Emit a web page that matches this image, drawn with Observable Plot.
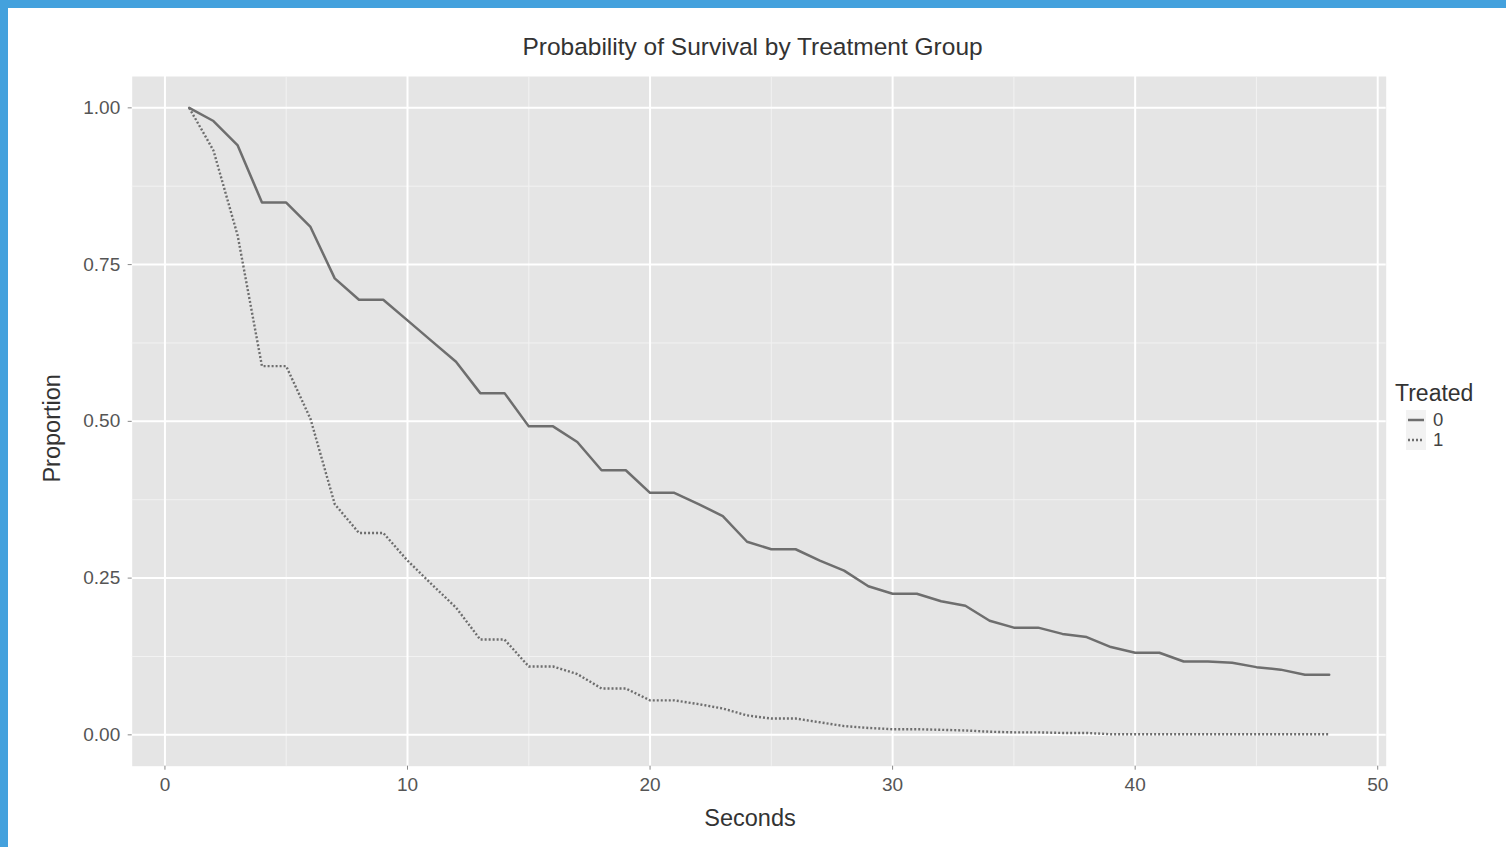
<!DOCTYPE html>
<html><head><meta charset="utf-8">
<script src="https://cdn.jsdelivr.net/npm/d3@7"></script>
<script src="https://cdn.jsdelivr.net/npm/@observablehq/plot@0.6"></script>
<style>
html,body{margin:0;padding:0;background:#fff;overflow:hidden;}
#wrap{width:1498px;height:839px;border-top:8px solid #44a1dd;border-left:8px solid #44a1dd;background:#fff;}
#wrap svg{display:block;}
</style></head><body><div id="wrap"></div>
<script>
const seconds = [1,2,3,4,5,6,7,8,9,10,11,12,13,14,15,16,17,18,19,20,21,22,23,24,25,26,27,28,29,30,31,32,33,34,35,36,37,38,39,40,41,42,43,44,45,46,47,48];
const untreated = [1.000,0.979,0.940,0.849,0.849,0.810,0.728,0.694,0.694,0.661,0.628,0.595,0.545,0.545,0.492,0.492,0.467,0.422,0.422,0.386,0.386,0.368,0.349,0.308,0.296,0.296,0.278,0.262,0.237,0.225,0.225,0.213,0.206,0.182,0.171,0.171,0.161,0.156,0.140,0.131,0.131,0.117,0.117,0.115,0.108,0.104,0.096,0.096];
const treated = [1.000,0.932,0.796,0.588,0.588,0.504,0.368,0.322,0.322,0.278,0.240,0.203,0.152,0.152,0.109,0.109,0.097,0.074,0.074,0.055,0.055,0.049,0.042,0.031,0.026,0.026,0.020,0.014,0.011,0.009,0.009,0.008,0.007,0.005,0.004,0.004,0.003,0.003,0.001,0.001,0.001,0.001,0.001,0.001,0.001,0.001,0.001,0.001];
const groups = ["0","1"];
const xTicks = [0,10,20,30,40,50];
const xMinor = [5,15,25,35,45];
const yTicks = [0,0.25,0.5,0.75,1];
const yMinor = [0.125,0.375,0.625,0.875];
const chartTitle = "Probability of Survival by Treatment Group";
const xLabel = "Seconds";
const yLabel = "Proportion";
const legendTitle = "Treated";

const rows0 = seconds.map((s,i)=>({seconds:s, proportion:untreated[i], treated:groups[0]}));
const rows1 = seconds.map((s,i)=>({seconds:s, proportion:treated[i], treated:groups[1]}));

const FONT = "'Liberation Sans', Arial, Helvetica, sans-serif";
const lineColor = "#6e6e6e";
const dotDash = "2,2";

const plot = Plot.plot({
  width: 1498, height: 839,
  marginLeft: 123.7, marginRight: 120.3, marginTop: 68, marginBottom: 81.3,
  x: {domain: [-1.35, 50.35]},
  y: {domain: [-0.05, 1.05]},
  style: {fontFamily: FONT, background: "#fff"},
  marks: [
    Plot.frame({fill: "#e5e5e5", stroke: "none"}),
    Plot.gridX(xMinor, {stroke: "#f2f2f2", strokeOpacity: 1, strokeWidth: 1}),
    Plot.gridY(yMinor, {stroke: "#f2f2f2", strokeOpacity: 1, strokeWidth: 1}),
    Plot.gridX(xTicks, {stroke: "#ffffff", strokeOpacity: 1, strokeWidth: 2}),
    Plot.gridY(yTicks, {stroke: "#ffffff", strokeOpacity: 1, strokeWidth: 2}),
    Plot.axisX(xTicks, {tickSize: 4, tickPadding: 7, stroke: "#888", fill: "#555", fontSize: 19, label: null}),
    Plot.axisY(yTicks, {tickSize: 4, tickPadding: 8, stroke: "#888", fill: "#555", fontSize: 19, label: null, tickFormat: d3.format(".2f")}),
    Plot.line(rows0, {x: "seconds", y: "proportion", stroke: lineColor, strokeWidth: 2.5}),
    Plot.line(rows1, {x: "seconds", y: "proportion", stroke: lineColor, strokeWidth: 2.4, strokeDasharray: dotDash, strokeLinecap: "butt"}),
    Plot.text([chartTitle], {text: d => d, frameAnchor: "top", lineAnchor: "middle", textAnchor: "middle", dx: -6.7, dy: -29, fontSize: 24.5, fill: "#333"}),
    Plot.text([xLabel], {text: d => d, frameAnchor: "bottom", lineAnchor: "middle", textAnchor: "middle", dx: -9.2, dy: 52.3, fontSize: 23.5, fill: "#333"}),
    Plot.text([yLabel], {text: d => d, frameAnchor: "left", lineAnchor: "middle", textAnchor: "middle", rotate: -90, dx: -79.7, dy: 7, fontSize: 23.5, fill: "#333"})
  ]
});
document.getElementById("wrap").appendChild(plot);

// legend
const svg = d3.select(plot);
const lg = svg.append("g").attr("font-family", FONT).attr("text-anchor", "start");
lg.append("text").attr("x", 1387).attr("y", 385).attr("dy", "0.35em").attr("font-size", 23).attr("fill", "#333").text(legendTitle);
groups.forEach((g, i) => {
  const cy = 412 + i * 20;
  lg.append("rect").attr("x", 1398).attr("y", cy - 10).attr("width", 20).attr("height", 20).attr("fill", "#f2f2f2");
  const ln = lg.append("line").attr("x1", 1400).attr("x2", 1416).attr("y1", cy).attr("y2", cy)
    .attr("stroke", lineColor).attr("stroke-width", i === 0 ? 2.5 : 2.4);
  if (i === 1) ln.attr("stroke-dasharray", dotDash);
  lg.append("text").attr("x", 1425).attr("y", cy).attr("dy", "0.35em").attr("font-size", 18.5).attr("fill", "#444").text(g);
});
</script>
</body></html>
